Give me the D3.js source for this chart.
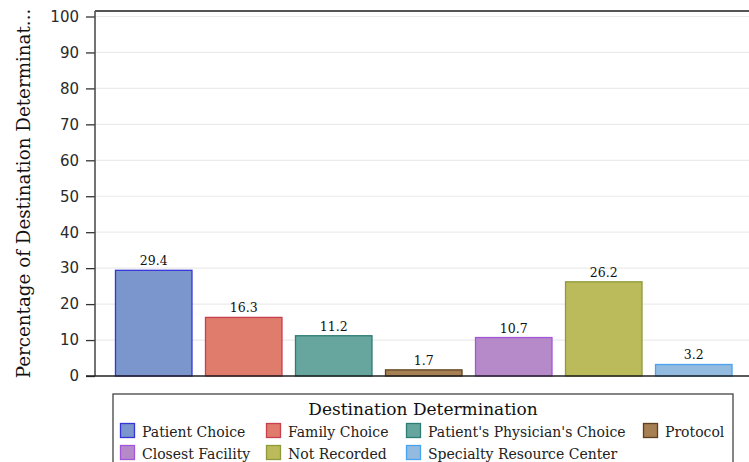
<!DOCTYPE html>
<html><head><meta charset="utf-8">
<script src="https://cdn.jsdelivr.net/npm/d3@7"></script>
<style>body{margin:0;background:#fff}svg{display:block}</style>
</head><body>
<svg id="c" width="749" height="462"></svg>
<script>
const categories = ["Patient Choice","Family Choice","Patient's Physician's Choice","Protocol","Closest Facility","Not Recorded","Specialty Resource Center"];
const values = [29.4,16.3,11.2,1.7,10.7,26.2,3.2];
const fills = ["#7b96cc","#e07c6c","#66a69e","#a67f52","#b68ac9","#bbbb5c","#93badf"];
const strokes = ["#3434d8","#c8404f","#2e7d74","#5e4020","#a456d8","#8f9a3a","#4aa3f0"];
const yTicks = [0,10,20,30,40,50,60,70,80,90,100];
const yTitle = "Percentage of Destination Determinat...";
const legendTitle = "Destination Determination";

const svg = d3.select("#c");
const L = 95, R = 752.5, T = 11, B = 376;
const x = d3.scaleBand().domain(categories).range([L, R]).paddingInner(0.139).paddingOuter(0.222);
const y = d3.scaleLinear().domain([0,100]).range([B, 16.5]);
const serif = "'DejaVu Serif', serif";

// gridlines
svg.append("g").selectAll("line").data(yTicks.filter(d=>d>0)).join("line")
  .attr("x1", L).attr("x2", 749).attr("y1", d=>y(d)).attr("y2", d=>y(d))
  .attr("stroke", "#ebebeb").attr("stroke-width", 1.2);

// bars
svg.append("g").selectAll("rect").data(values).join("rect")
  .attr("x", (d,i)=>x(categories[i])+0.5)
  .attr("y", d=>y(d))
  .attr("width", x.bandwidth()-1)
  .attr("height", d=>B-y(d))
  .attr("fill", (d,i)=>fills[i]).attr("stroke", (d,i)=>strokes[i]).attr("stroke-width", 1.3);

// value labels
svg.append("g").selectAll("text").data(values).join("text")
  .attr("x", (d,i)=>x(categories[i])+x.bandwidth()/2)
  .attr("y", d=>y(d)-5)
  .attr("text-anchor","middle")
  .style("font-family", serif).style("font-size","12.5px").attr("fill","#111")
  .text(d=>d.toFixed(1));

// y axis
const yAxis = d3.axisLeft(y).tickValues(yTicks).tickSize(9).tickPadding(7).tickFormat(d3.format("d"));
const ga = svg.append("g").attr("transform",`translate(${L},0)`).call(yAxis);
ga.select(".domain").remove();
ga.selectAll(".tick line").attr("stroke","#333").attr("stroke-width",1.3);
ga.selectAll(".tick text").style("font-family","'DejaVu Sans', sans-serif").style("font-size","15px").attr("fill","#2a2a2a");

// frame
svg.append("line").attr("x1",L).attr("x2",L).attr("y1",T).attr("y2",B).attr("stroke","#444").attr("stroke-width",1.5);
svg.append("line").attr("x1",L).attr("x2",749).attr("y1",T).attr("y2",T).attr("stroke","#555").attr("stroke-width",1.8);
svg.append("line").attr("x1",86).attr("x2",749).attr("y1",B).attr("y2",B).attr("stroke","#222").attr("stroke-width",1.5);

// y title
svg.append("text").attr("transform",`translate(30,${(T+B)/2}) rotate(-90)`)
  .attr("text-anchor","middle").style("font-family",serif).style("font-size","18.3px").attr("fill","#111")
  .text(yTitle);

// legend
const lg = svg.append("g");
lg.append("rect").attr("x",113).attr("y",394).attr("width",620).attr("height",80)
  .attr("fill","none").attr("stroke","#444").attr("stroke-width",1.3);
lg.append("text").attr("x",423).attr("y",415).attr("text-anchor","middle")
  .style("font-family",serif).style("font-size","17px").attr("fill","#111").text(legendTitle);
const colX = [120,266,406,643];
const rowY = [423,445];
const items = lg.selectAll("g.item").data(categories).join("g").attr("class","item")
  .attr("transform",(d,i)=>`translate(${colX[i%4]},${rowY[Math.floor(i/4)]})`);
items.append("rect").attr("x",0.5).attr("y",0.5).attr("width",14).attr("height",14)
  .attr("fill",(d,i)=>fills[i]).attr("stroke",(d,i)=>strokes[i]).attr("stroke-width",1.3);
items.append("text").attr("x",22).attr("y",13.5)
  .style("font-family",serif).style("font-size","14px").attr("fill","#222").text(d=>d);
</script>
</body></html>
